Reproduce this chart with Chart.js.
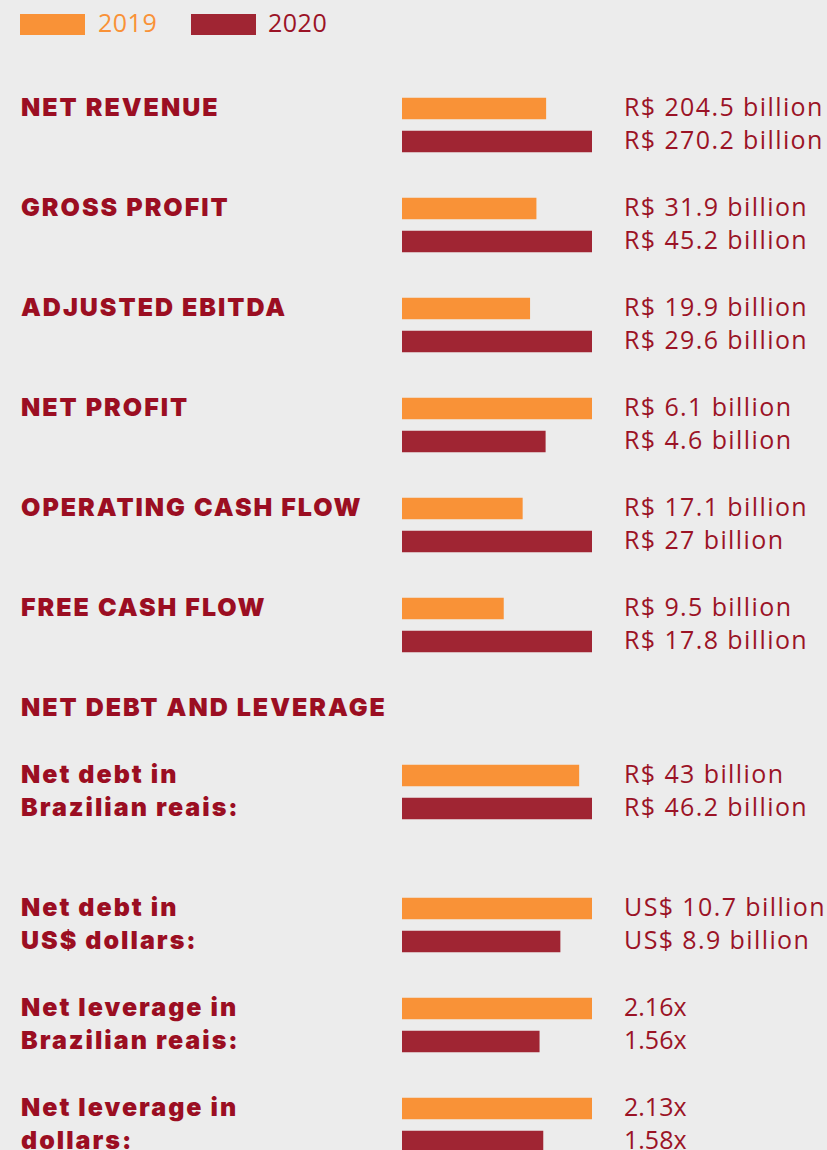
<!DOCTYPE html>
<html>
<head>
<meta charset="utf-8">
<script src="https://cdn.jsdelivr.net/npm/chart.js@4.4.1/dist/chart.umd.min.js"></script>
<style>
  html, body { margin: 0; padding: 0; }
  body { width: 827px; height: 1150px; background: #ececec; overflow: hidden; position: relative; }
  .lbl { position: absolute; left: 21px; font-family: Inter, sans-serif; font-weight: 900; font-size: 25px; letter-spacing: 2px; line-height: 33px; color: #9b0e22; white-space: pre; }
  .val { position: absolute; left: 624px; font-family: "Open Sans", sans-serif; font-size: 25px; letter-spacing: 1.4px; line-height: 33px; color: #9b1326; white-space: pre; }
  .box { position: absolute; }
  .leg { position: absolute; top: 14px; width: 65px; height: 21px; }
  .legtxt { position: absolute; top: 7px; font-family: "Open Sans", sans-serif; font-size: 25px; letter-spacing: 0.5px; line-height: 30px; }
</style>
</head>
<body>
<div class="leg" style="left:20px;background:#f99237"></div>
<div class="legtxt" id="leg2019" style="left:98px;color:#f99237"></div>
<div class="leg" style="left:191px;background:#a02533"></div>
<div class="legtxt" id="leg2020" style="left:268px;color:#9b1326"></div>
<div class="lbl" style="top:691px">NET DEBT AND LEVERAGE</div>
<script>
// series names
const years = ['2019', '2020'];

// one entry per pair of bars
const categories = [
  'NET REVENUE',
  'GROSS PROFIT',
  'ADJUSTED EBITDA',
  'NET PROFIT',
  'OPERATING CASH FLOW',
  'FREE CASH FLOW',
  'Net debt in\nBrazilian reais:',
  'Net debt in\nUS$ dollars:',
  'Net leverage in\nBrazilian reais:',
  'Net leverage in\ndollars:'
];
const values2019 = [204.5, 31.9, 19.9, 6.1, 17.1, 9.5, 43, 10.7, 2.16, 2.13];
const values2020 = [270.2, 45.2, 29.6, 4.6, 27, 17.8, 46.2, 8.9, 1.56, 1.58];
const unitPrefix = ['R$ ', 'R$ ', 'R$ ', 'R$ ', 'R$ ', 'R$ ', 'R$ ', 'US$ ', '', ''];
const unitSuffix = [' billion', ' billion', ' billion', ' billion', ' billion', ' billion', ' billion', ' billion', 'x', 'x'];

// layout: top of the 2019 bar for each pair
const rowTops = [98, 198, 298, 398, 498, 598, 765, 898, 998, 1098];

const colors = ['#f99237', '#a02533'];

document.getElementById('leg2019').textContent = years[0];
document.getElementById('leg2020').textContent = years[1];

categories.forEach((cat, i) => {
  const top = rowTops[i] - 6;

  const lbl = document.createElement('div');
  lbl.className = 'lbl';
  lbl.style.top = (top - 1) + 'px';
  lbl.textContent = cat;
  document.body.appendChild(lbl);

  const val = document.createElement('div');
  val.className = 'val';
  val.style.top = (top - 2) + 'px';
  val.textContent = unitPrefix[i] + values2019[i] + unitSuffix[i] + '\n' + unitPrefix[i] + values2020[i] + unitSuffix[i];
  if (unitPrefix[i] === '') val.style.letterSpacing = '0px';
  document.body.appendChild(val);

  const box = document.createElement('div');
  box.className = 'box';
  box.style.left = '402px';
  box.style.top = top + 'px';
  const canvas = document.createElement('canvas');
  canvas.width = 190;
  canvas.height = 66;
  box.appendChild(canvas);
  document.body.appendChild(box);

  // each pair has its own scale, longest bar fills the width
  new Chart(canvas.getContext('2d'), {
    type: 'bar',
    data: {
      labels: years,
      datasets: [{
        data: [values2019[i], values2020[i]],
        backgroundColor: colors,
        barThickness: 21,
        categoryPercentage: 1
      }]
    },
    options: {
      indexAxis: 'y',
      responsive: false,
      animation: false,
      layout: { padding: 0 },
      plugins: { legend: { display: false }, tooltip: { enabled: false } },
      scales: {
        x: { display: false, min: 0, max: Math.max(values2019[i], values2020[i]) },
        y: { display: false }
      }
    }
  });
});
</script>
</body>
</html>
